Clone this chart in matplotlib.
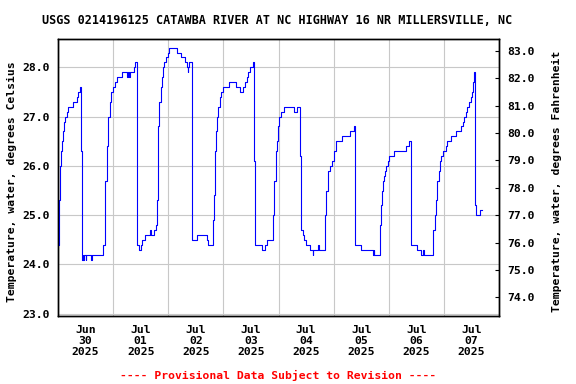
import matplotlib
matplotlib.use("Agg")
import matplotlib.pyplot as plt
import matplotlib.dates as mdates
import pandas as pd

# Days since 2025-06-30 00:00 (EDT) and water temperature, deg C (held until next point)
days = [0.000, 0.010, 0.031, 0.049, 0.073, 0.092, 0.110, 0.134, 0.158, 0.182,
        0.279, 0.340, 0.364, 0.400, 0.425, 0.432, 0.443, 0.452, 0.458, 0.478,
        0.500, 0.510, 0.600, 0.615, 0.758, 0.788, 0.819, 0.849, 0.861, 0.885,
        0.910, 0.940, 0.970, 1.000, 1.030, 1.067, 1.152, 1.249, 1.270, 1.290,
        1.310, 1.370, 1.400, 1.425, 1.430, 1.440, 1.470, 1.500, 1.530, 1.570,
        1.667, 1.680, 1.734, 1.770, 1.794, 1.806, 1.818, 1.840, 1.860, 1.880,
        1.900, 1.928, 1.958, 1.990, 2.020, 2.158, 2.230, 2.304, 2.334, 2.345,
        2.355, 2.365, 2.380, 2.425, 2.432, 2.522, 2.685, 2.697, 2.722, 2.807,
        2.831, 2.843, 2.867, 2.879, 2.910, 2.940, 2.964, 3.000, 3.109, 3.224,
        3.303, 3.352, 3.394, 3.424, 3.455, 3.485, 3.545, 3.558, 3.570, 3.582,
        3.697, 3.764, 3.800, 3.897, 3.921, 3.946, 3.970, 3.994, 4.018, 4.043,
        4.091, 4.273, 4.333, 4.394, 4.406, 4.443, 4.467, 4.503, 4.564, 4.618,
        4.630, 4.715, 4.735, 4.842, 4.867, 4.903, 4.940, 4.970, 5.000, 5.048,
        5.158, 5.290, 5.376, 5.382, 5.394, 5.497, 5.715, 5.727, 5.740, 5.836,
        5.848, 5.861, 5.873, 5.897, 5.921, 5.940, 5.958, 5.982, 6.012, 6.103,
        6.321, 6.376, 6.400, 6.412, 6.515, 6.594, 6.624, 6.648, 6.806, 6.830,
        6.855, 6.879, 6.903, 6.927, 6.952, 6.976, 7.036, 7.061, 7.121, 7.212,
        7.315, 7.339, 7.364, 7.394, 7.424, 7.455, 7.485, 7.515, 7.533, 7.545,
        7.555, 7.564, 7.576, 7.655, 7.700]
temp_c = [24.4, 25.3, 26.0, 26.3, 26.5, 26.7, 26.9, 27.0, 27.1, 27.2,
          27.3, 27.4, 27.5, 27.6, 26.3, 24.2, 24.1, 24.2, 24.1, 24.2,
          24.1, 24.2, 24.1, 24.2, 24.2, 24.2, 24.4, 24.7, 25.7, 26.4,
          27.0, 27.3, 27.5, 27.6, 27.7, 27.8, 27.9, 27.8, 27.9, 27.8,
          27.9, 28.0, 28.1, 26.7, 24.5, 24.4, 24.3, 24.4, 24.5, 24.6,
          24.7, 24.6, 24.7, 24.8, 25.3, 26.3, 26.8, 27.3, 27.6, 27.8,
          28.0, 28.1, 28.2, 28.3, 28.4, 28.3, 28.2, 28.1, 28.1, 28.0,
          27.9, 28.0, 28.1, 26.7, 24.5, 24.6, 24.6, 24.5, 24.4, 24.9,
          25.4, 26.3, 26.7, 27.0, 27.2, 27.4, 27.5, 27.6, 27.7, 27.6,
          27.5, 27.6, 27.7, 27.8, 27.9, 28.0, 28.1, 26.1, 24.5, 24.4,
          24.3, 24.4, 24.5, 25.0, 25.7, 26.3, 26.5, 26.8, 27.0, 27.1,
          27.2, 27.1, 27.2, 26.2, 24.7, 24.6, 24.5, 24.4, 24.3, 24.2,
          24.3, 24.4, 24.3, 25.0, 25.5, 25.9, 26.0, 26.1, 26.3, 26.5,
          26.6, 26.7, 26.8, 25.7, 24.4, 24.3, 24.2, 24.3, 24.2, 24.4,
          24.8, 25.2, 25.5, 25.7, 25.8, 25.9, 26.0, 26.1, 26.2, 26.3,
          26.4, 26.5, 25.5, 24.4, 24.3, 24.2, 24.3, 24.2, 24.7, 25.0,
          25.3, 25.7, 25.9, 26.1, 26.2, 26.3, 26.4, 26.5, 26.6, 26.7,
          26.8, 26.9, 27.0, 27.1, 27.2, 27.3, 27.4, 27.5, 27.7, 27.8,
          27.9, 25.2, 25.0, 25.1, 25.1]

celsius_ticks = [23, 24, 25, 26, 27, 28]
fahrenheit_ticks = [74, 75, 76, 77, 78, 79, 80, 81, 82, 83]
title = "USGS 0214196125 CATAWBA RIVER AT NC HIGHWAY 16 NR MILLERSVILLE, NC"

start = pd.Timestamp("2025-06-30")
times = start + pd.to_timedelta(days, unit="D")

plt.rcParams["font.family"] = "DejaVu Sans Mono"
plt.rcParams["font.weight"] = "bold"
plt.rcParams["font.size"] = 8.2

fig = plt.figure(figsize=(5.76, 3.84), dpi=100)
ax = fig.add_axes([58 / 576, 1 - 316 / 384, 441 / 576, 277 / 384])

ax.plot(times, temp_c, color="#0000ff", linewidth=0.8, drawstyle="steps-post", zorder=3)

c_lo, c_hi = 22.955, 28.574
ax.set_ylim(c_lo, c_hi)
ax.set_xlim(start, start + pd.Timedelta(days=8))
ax.set_yticks(celsius_ticks)
ax.set_yticklabels([f"{v:.1f}" for v in celsius_ticks])
ax.tick_params(axis="y", length=0, pad=5.8)

ax.xaxis.set_major_locator(mdates.DayLocator())
ax.xaxis.set_major_formatter(plt.NullFormatter())
ax.xaxis.set_minor_locator(mdates.HourLocator(byhour=[12]))
ax.xaxis.set_minor_formatter(mdates.DateFormatter("%b\n%d\n%Y"))
ax.tick_params(axis="x", which="both", length=0, pad=6.5)
for lbl in ax.xaxis.get_minorticklabels():
    lbl.set_linespacing(1.1)

ax.grid(True, which="major", color="#c8c8c8", linewidth=0.8, zorder=0)

# right axis is the same scale in Fahrenheit
ax2 = ax.twinx()
ax2.set_ylim(c_lo * 1.8 + 32, c_hi * 1.8 + 32)
ax2.set_yticks(fahrenheit_ticks)
ax2.set_yticklabels([f"{v:.1f}" for v in fahrenheit_ticks])
ax2.tick_params(axis="y", direction="in", length=3, pad=6)

for a in (ax, ax2):
    for s in a.spines.values():
        s.set_linewidth(1.0)
        s.set_color("black")

fig.text(0.481, 1 - 20 / 384, title, ha="center", va="center", fontsize=8.5)
fig.text(0.021, 0.527, "Temperature, water, degrees Celsius", rotation=90,
         ha="center", va="center")
fig.text(0.967, 0.527, "Temperature, water, degrees Fahrenheit", rotation=90,
         ha="center", va="center")
fig.text(0.482, 1 - 375 / 384, "---- Provisional Data Subject to Revision ----",
         color="red", ha="center", va="center")

fig.savefig("out.png", dpi=100)
